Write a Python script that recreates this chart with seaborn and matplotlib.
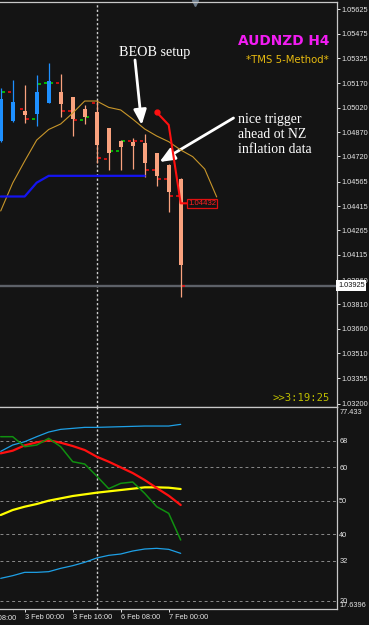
import matplotlib
matplotlib.use("Agg")
import matplotlib.pyplot as plt
import matplotlib.transforms as mtransforms
import numpy as np
import pandas as pd
import seaborn as sns

# ---------------- price panel data (AUDNZD H4) ----------------
bars = list(range(16))
opens  = [1.04815, 1.04938, 1.05000, 1.04981, 1.05049, 1.05118, 1.05088, 1.05012,
          1.04992, 1.04895, 1.04818, 1.04809, 1.04800, 1.04743, 1.04668, 1.04582]
highs  = [1.05139, 1.05190, 1.05160, 1.05221, 1.05297, 1.05227, 1.05088, 1.05037,
          1.05067, 1.04898, 1.04824, 1.04832, 1.04861, 1.04744, 1.04671, 1.04586]
lows   = [1.04811, 1.04935, 1.04928, 1.04907, 1.05047, 1.04963, 1.04846, 1.04920,
          1.04678, 1.04634, 1.04637, 1.04643, 1.04594, 1.04539, 1.04380, 1.03853]
closes = [1.05072, 1.05057, 1.04975, 1.05118, 1.05184, 1.05043, 1.04949, 1.04963,
          1.04788, 1.04741, 1.04778, 1.04784, 1.04677, 1.04600, 1.04503, 1.04053]

tick_left  = [np.nan, 1.05118, 1.05014, 1.04949, 1.05170, 1.05170, 1.05002, 1.04944,
              1.05047, 1.04705, 1.04754, 1.04815, 1.04815, 1.04637, 1.04580, 1.04475]
tick_left_up = [False, False, False, True, True, False, False, True,
                False, False, True, False, False, False, False, False]
tick_right = [1.05118, np.nan, 1.04949, 1.05164, 1.05170, 1.05002, 1.04944, 1.04965,
              1.04709, 1.04754, 1.04815, 1.04815, 1.04637, 1.04580, 1.04477, 1.03925]
tick_right_up = [True, False, False, True, True, False, False, True,
                 False, True, True, False, False, False, False, False]

ma_bars = list(range(19))
ma_values = [1.04385, 1.04557, 1.04692, 1.04821, 1.04886, 1.04920, 1.04987, 1.05061,
             1.05061, 1.05022, 1.05006, 1.04950, 1.04889, 1.04846, 1.04811, 1.04760,
             1.04719, 1.04643, 1.04471]

base_bars = list(range(13))
base_values = [1.04474, 1.04474, 1.04474, 1.04559, 1.04601, 1.04601, 1.04601,
               1.04601, 1.04601, 1.04601, 1.04601, 1.04601, 1.04601]

stop_bars = [13, 14, 15, 15.6]
stop_values = [1.04992, 1.04914, 1.04432, 1.04432]
stop_label = "1.04432"
bid_price = 1.03925

price_ticks = [1.05625, 1.05475, 1.05325, 1.05170, 1.05020, 1.04870, 1.04720, 1.04565,
               1.04415, 1.04265, 1.04115, 1.03960, 1.03810, 1.03660, 1.03510, 1.03355,
               1.03200]
time_ticks = [2, 6, 10, 14]
time_labels = ["3 Feb 00:00", "3 Feb 16:00", "6 Feb 08:00", "7 Feb 00:00"]
hidden_time_tick = -2
hidden_time_label = "2 Feb 08:00"
week_separator = 8

# ---------------- TDI panel data ----------------
tdi_bars = list(range(16))
tdi_upper  = [64.8, 66.7, 67.7, 69.2, 70.6, 71.4, 71.7, 72.0, 72.0, 72.1, 72.2, 72.3,
              72.4, 72.4, 72.4, 72.9]
tdi_lower  = [26.7, 27.5, 28.5, 28.5, 28.7, 29.7, 30.5, 31.5, 32.8, 33.6, 34.0, 34.9,
              35.5, 35.7, 35.4, 34.2]
tdi_base   = [45.7, 47.2, 48.2, 49.0, 50.0, 50.7, 51.4, 51.9, 52.4, 52.8, 53.2, 53.6,
              54.0, 54.0, 53.9, 53.5]
tdi_signal = [64.2, 65.0, 66.6, 67.5, 68.1, 67.4, 66.4, 65.2, 63.2, 61.7, 60.0, 58.3,
              56.2, 53.8, 51.5, 48.7]
tdi_rsi    = [69.2, 69.2, 66.2, 66.7, 68.7, 66.2, 61.7, 61.0, 57.4, 53.6, 55.2, 55.6,
              52.2, 48.2, 46.2, 38.2]
tdi_levels = [68, 60, 50, 40, 32, 20]
tdi_max, tdi_min = 77.433, 17.6396

# ---------------- style ----------------
sns.set_theme(style="dark")
plt.rcParams['font.family'] = ['Liberation Sans', 'DejaVu Sans']
BG = '#141414'
FG = '#e6e6e6'
UP = '#1e90ff'
DN = '#f9a27e'

W, H = 369, 625
fig = plt.figure(figsize=(W / 100, H / 100), dpi=100)
fig.patch.set_facecolor(BG)
ax1 = fig.add_axes([0, 1 - 406.7 / H, 337 / W, 405.2 / H])
ax2 = fig.add_axes([0, 1 - 609 / H, 337 / W, 202.3 / H])
for ax in (ax1, ax2):
    ax.set_facecolor(BG)
    ax.set_xlim(-0.058, 28.025)
    ax.grid(False)
    ax.spines['left'].set_visible(False)
    for s in ('top', 'right', 'bottom'):
        ax.spines[s].set_color('#c8c8c8')
        ax.spines[s].set_linewidth(0.9)
    ax.axvline(week_separator, color='#cfcfcf', lw=1.0, ls=(0, (1.6, 1.6)), zorder=1)

# ---------------- price panel ----------------
df = pd.DataFrame(dict(bar=bars, open=opens, high=highs, low=lows, close=closes))
colors = np.where(df.close >= df.open, UP, DN)
ax1.axhline(bid_price, color='#5d6168', lw=1.7, zorder=1.5)

for side, vals, ups in (('l', tick_left, tick_left_up), ('r', tick_right, tick_right_up)):
    for b, v, u in zip(bars, vals, ups):
        if np.isnan(v):
            continue
        x0, x1 = (b - 0.36, b - 0.1) if side == 'l' else (b + 0.1, b + 0.36)
        ax1.hlines(v, x0, x1, colors='#00d000' if u else '#e81010', lw=1.2, zorder=2.5)

ax1.vlines(df.bar, df.low, df.high, colors=colors, lw=0.9, zorder=3)
ax1.bar(df.bar, (df.close - df.open).abs(), bottom=np.minimum(df.open, df.close),
        width=0.34, color=colors, linewidth=0, zorder=4)

sns.lineplot(x=ma_bars, y=ma_values, ax=ax1, color='#c8962a', linewidth=0.8,
             estimator=None, sort=False, legend=False, zorder=5)
sns.lineplot(x=base_bars, y=base_values, ax=ax1, color='#1414f0', linewidth=1.6,
             estimator=None, sort=False, legend=False, zorder=5)
sns.lineplot(x=stop_bars, y=stop_values, ax=ax1, color='#ff1010', linewidth=1.5,
             estimator=None, sort=False, legend=False, zorder=6)
ax1.plot(stop_bars[0], stop_values[0], 'o', color='#ff1010', ms=3.5, zorder=6)
ax1.text(stop_bars[-1], stop_values[-1], stop_label, color='#ff2020', fontsize=5.6,
         ha='left', va='center', zorder=7,
         bbox=dict(facecolor=BG, edgecolor='#e01010', linewidth=0.9, pad=0.8))

ax1.set_ylim(1.031814, 1.05673)
ax1.set_xticks([])
ax1.yaxis.tick_right()
ax1.set_yticks(price_ticks)
ax1.set_yticklabels([f"{v:.5f}" for v in price_ticks])
ax1.tick_params(axis='y', colors=FG, labelsize=5.3, length=2.5, width=0.7, pad=1.0,
                left=False, right=True)
ax1.set_xlabel('')
ax1.set_ylabel('')
bt = mtransforms.blended_transform_factory(ax1.transAxes, ax1.transData)
ax1.text(1.003, bid_price, f"{bid_price:.5f}", transform=bt, color='#111111',
         fontsize=5.3, ha='left', va='center', clip_on=False, zorder=10,
         bbox=dict(facecolor='white', edgecolor='none', pad=1.3))
ax1.plot(195 / W, 1 - 3 / H, marker='v', ms=5, color='#6d7c8c',
         transform=fig.transFigure, clip_on=False)

# ---------------- TDI panel ----------------
for lv in tdi_levels:
    ax2.axhline(lv, color='#8a8a8a', lw=0.7, ls=(0, (3, 3)), zorder=1)
sns.lineplot(x=tdi_bars, y=tdi_upper, ax=ax2, color='#1ea0e6', linewidth=0.9,
             estimator=None, sort=False, legend=False, zorder=3)
sns.lineplot(x=tdi_bars, y=tdi_lower, ax=ax2, color='#1ea0e6', linewidth=0.9,
             estimator=None, sort=False, legend=False, zorder=3)
sns.lineplot(x=tdi_bars, y=tdi_base, ax=ax2, color='#ffff00', linewidth=1.6,
             estimator=None, sort=False, legend=False, zorder=4)
sns.lineplot(x=tdi_bars, y=tdi_signal, ax=ax2, color='#ff1010', linewidth=1.6,
             estimator=None, sort=False, legend=False, zorder=5)
sns.lineplot(x=tdi_bars, y=tdi_rsi, ax=ax2, color='#109010', linewidth=1.1,
             estimator=None, sort=False, legend=False, zorder=6)
ax2.set_ylim(17.5, 78.2)
ax2.yaxis.tick_right()
ax2.set_yticks(tdi_levels)
ax2.set_yticklabels([str(v) for v in tdi_levels])
ax2.tick_params(axis='y', colors=FG, labelsize=5.3, length=0, pad=1.6,
                left=False, right=True)
bt2 = mtransforms.blended_transform_factory(ax2.transAxes, ax2.transData)
ax2.text(1.008, tdi_max, f"{tdi_max:g}", transform=bt2, color=FG, fontsize=5.3,
         ha='left', va='top', clip_on=False)
ax2.text(1.008, tdi_min, f"{tdi_min:g}", transform=bt2, color=FG, fontsize=5.3,
         ha='left', va='bottom', clip_on=False)
ax1.text(1.008, 0.0, "", transform=ax1.transAxes)

ax2.set_xticks(time_ticks)
ax2.set_xticklabels(time_labels)
for lab in ax2.get_xticklabels():
    lab.set_ha('left')
ax2.tick_params(axis='x', colors=FG, labelsize=5.3, length=2.5, width=0.7, pad=1.2,
                bottom=True)
bx = mtransforms.blended_transform_factory(ax2.transData, ax2.transAxes)
ax2.text(hidden_time_tick, -5.5 / 202.3, hidden_time_label, transform=bx, color=FG,
         fontsize=5.3, ha='left', va='top', clip_on=False)
ax2.set_xlabel('')
ax2.set_ylabel('')

# ---------------- annotations ----------------
fig.text(329 / W, 1 - 45 / H, "AUDNZD H4", ha='right', va='baseline', fontsize=9.9,
         weight='bold', color='#f21cf2', family=['DejaVu Sans'])
fig.text(329 / W, 1 - 62.7 / H, "*TMS 5-Method*", ha='right', va='baseline',
         fontsize=7.3, color='#e8bb10', family=['DejaVu Sans'])
fig.text(119 / W, 1 - 56 / H, "BEOB setup", ha='left', va='baseline', fontsize=10.2,
         color='white', family=['Liberation Serif'])
for txt, yb in (("nice trigger", 122.7), ("ahead ot NZ", 138.0), ("inflation data", 153.3)):
    fig.text(238 / W, 1 - yb / H, txt, ha='left', va='baseline', fontsize=9.9,
             color='white', family=['Liberation Serif'])
fig.text(330 / W, 1 - 398 / H, ">>3:19:25", ha='right', va='center', fontsize=7.6,
         color='#bdbd00', family=['DejaVu Sans Mono'])

arrow = dict(arrowstyle='-|>,head_length=0.9,head_width=0.38', color='white', lw=2.0,
             mutation_scale=10, shrinkA=0, shrinkB=0)
ax1.annotate('', xy=(141.7, H - 125), xycoords='figure pixels',
             xytext=(135, H - 60), textcoords='figure pixels', arrowprops=arrow,
             annotation_clip=False)
ax1.annotate('', xy=(159.5, H - 162), xycoords='figure pixels',
             xytext=(233.5, H - 118), textcoords='figure pixels', arrowprops=arrow,
             annotation_clip=False)

fig.savefig("out.png", dpi=100, facecolor=fig.get_facecolor())
